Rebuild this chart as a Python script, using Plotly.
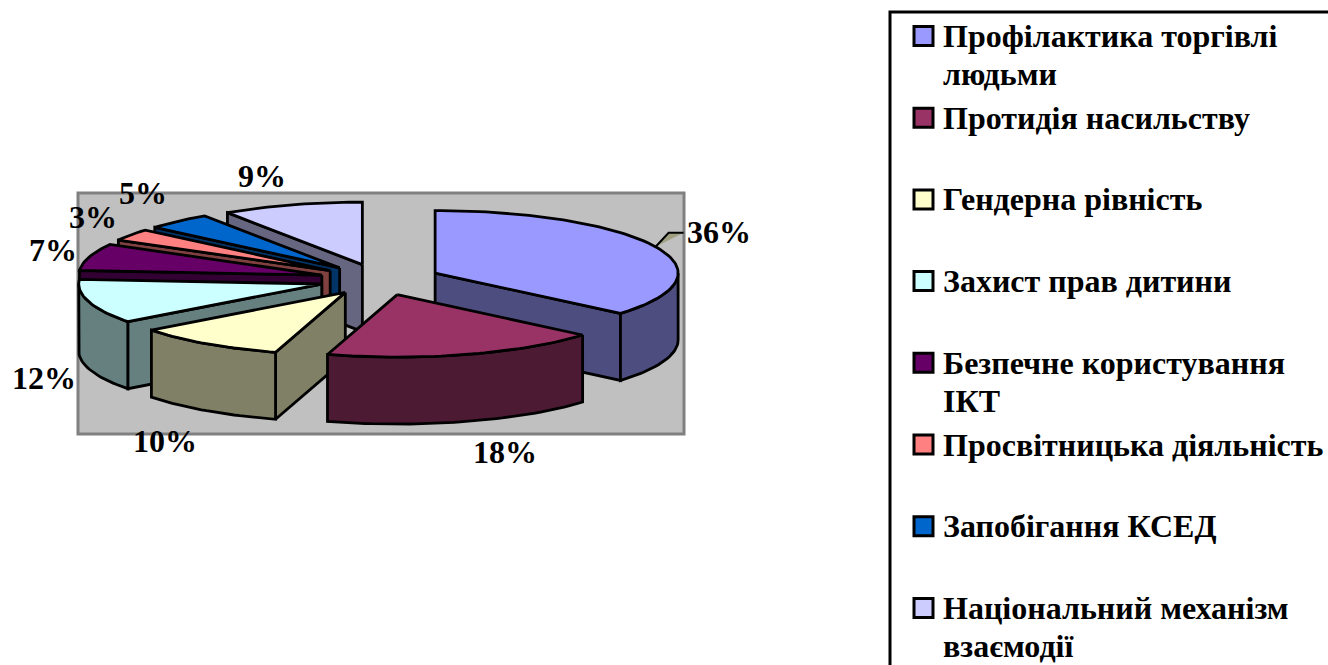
import math
import plotly.graph_objects as go

categories = ["Профілактика торгівлі", "Протидія насильству", "Гендерна рівність",
              "Захист прав дитини", "Безпечне користування", "Просвітницька діяльність",
              "Запобігання КСЕД", "Національний механізм"]
second_lines = ["людьми", "", "", "", "ІКТ", "", "", "взаємодії"]
values = [36.3, 18.5, 10.1, 11.5, 7.0, 3.1, 4.4, 9.4]
percent_labels = ["36%", "18%", "10%", "12%", "7%", "3%", "5%", "9%"]
top_colors = ["#9999FF", "#993366", "#FFFFCC", "#CCFFFF", "#660066", "#FF8080", "#0066CC", "#CCCCFF"]
side_colors = ["#4D4D80", "#4D1A33", "#808066", "#668080", "#330033", "#804040", "#003366", "#666680"]

# layout of the pseudo-3D pie (pixel-based axes)
W, H = 1328, 665
CX, CY = 380.0, 279.6
RX, RY = 243.0, 62.5
DEPTH = 67.0
EXPLODE = 0.25
LINE = 2.8
draw_order = [7, 6, 5, 4, 3, 0, 2, 1]
label_xy = [(719, 232), (505, 452), (165, 441), (44, 378), (53, 250), (93, 217), (143, 193), (262, 176)]
LEG_MARK_X, LEG_TEXT_X, LEG_Y0, LEG_PITCH, LEG_LINE = 923.5, 941, 36, 81.7, 38

total = sum(values)
starts, c = [], 0.0
for v in values:
    starts.append(c)
    c += v / total * 360.0


def pt(ax, ay, deg):
    r = math.radians(deg)
    return ax + RX * math.sin(r), ay - RY * math.cos(r)


def arc(ax, ay, a, b):
    n = max(2, int(abs(b - a) / 1.5) + 1)
    return [pt(ax, ay, a + (b - a) * i / (n - 1)) for i in range(n)]


def poly(points, fill):
    xs = [p[0] for p in points] + [points[0][0]]
    ys = [p[1] for p in points] + [points[0][1]]
    return go.Scatter(x=xs, y=ys, mode="lines", fill="toself", fillcolor=fill,
                      line=dict(color="black", width=LINE), showlegend=False, hoverinfo="skip")


def wall_visible(a, mid):
    """An edge wall shows when the extrusion points away from the slice interior."""
    ra, rm = math.radians(a), math.radians(mid)
    dx, dy = RX * math.sin(ra), -RY * math.cos(ra)
    mx, my = RX * math.sin(rm), -RY * math.cos(rm)
    return (dx * my - dy * mx) * dx < 0


fig = go.Figure()

for i in draw_order:
    a = starts[i]
    sweep = values[i] / total * 360.0
    b = a + sweep
    mid = a + sweep / 2
    r = math.radians(mid)
    ax = CX + EXPLODE * RX * math.sin(r)
    ay = CY - EXPLODE * RY * math.cos(r)
    for edge in (a, b):
        if wall_visible(edge, mid):
            p = pt(ax, ay, edge)
            fig.add_trace(poly([(ax, ay), p, (p[0], p[1] + DEPTH), (ax, ay + DEPTH)], side_colors[i]))
    lo, hi = max(a, 90.0), min(b, 270.0)
    if lo < hi:
        rim = arc(ax, ay, lo, hi)
        fig.add_trace(poly(rim + [(x, y + DEPTH) for x, y in reversed(rim)], side_colors[i]))
    fig.add_trace(poly([(ax, ay)] + arc(ax, ay, a, b), top_colors[i]))

# leader line of the largest slice
r0 = math.radians(starts[0] + values[0] / total * 180.0)
ax0 = CX + EXPLODE * RX * math.sin(r0)
ay0 = CY - EXPLODE * RY * math.cos(r0)
lx, ly = pt(ax0, ay0, starts[0] + values[0] / total * 180.0)
fig.add_trace(go.Scatter(x=[lx, lx + 13, lx + 28], y=[ly, ly - 14, ly - 14], mode="lines",
                         fill="toself", fillcolor="#A0A080",
                         line=dict(color="black", width=2), showlegend=False, hoverinfo="skip"))

# legend drawn on the pixel axes: one swatch and one or two text lines per entry
leg_font = dict(family="Liberation Serif", size=32, color="black", weight=700)
for k, (name, second, col) in enumerate(zip(categories, second_lines, top_colors)):
    y = LEG_Y0 + k * LEG_PITCH
    fig.add_trace(go.Scatter(x=[LEG_MARK_X], y=[y], mode="markers", showlegend=False, hoverinfo="skip",
                             marker=dict(symbol="square", size=19, color=col,
                                         line=dict(color="black", width=3))))
    fig.add_annotation(x=LEG_TEXT_X, y=y, text=name, showarrow=False, xanchor="left", yanchor="middle", font=leg_font)
    if second:
        fig.add_annotation(x=LEG_TEXT_X, y=y + LEG_LINE, text=second, showarrow=False,
                           xanchor="left", yanchor="middle", font=leg_font)

for text, (x, y) in zip(percent_labels, label_xy):
    fig.add_annotation(x=x, y=y, text=text, showarrow=False, xanchor="center", yanchor="middle",
                       font=dict(family="Liberation Serif", size=32, color="black", weight=700))

fig.update_layout(
    width=W, height=H, autosize=False,
    margin=dict(l=0, r=0, t=0, b=0),
    paper_bgcolor="white", plot_bgcolor="white",
    xaxis=dict(range=[0, W], visible=False, fixedrange=True),
    yaxis=dict(range=[H, 0], visible=False, fixedrange=True),
    showlegend=False,
    shapes=[
        dict(type="rect", xref="x", yref="y", x0=78, y0=193, x1=684, y1=434, layer="below",
             fillcolor="#C0C0C0", line=dict(color="#808080", width=3)),
        dict(type="rect", xref="x", yref="y", x0=890, y0=12, x1=1345, y1=685, layer="below",
             fillcolor="white", line=dict(color="black", width=3)),
    ],
)

fig.write_html("out.html", config=dict(displayModeBar=False),
               post_script="document.body.style.margin='0';document.body.style.overflow='hidden';")
